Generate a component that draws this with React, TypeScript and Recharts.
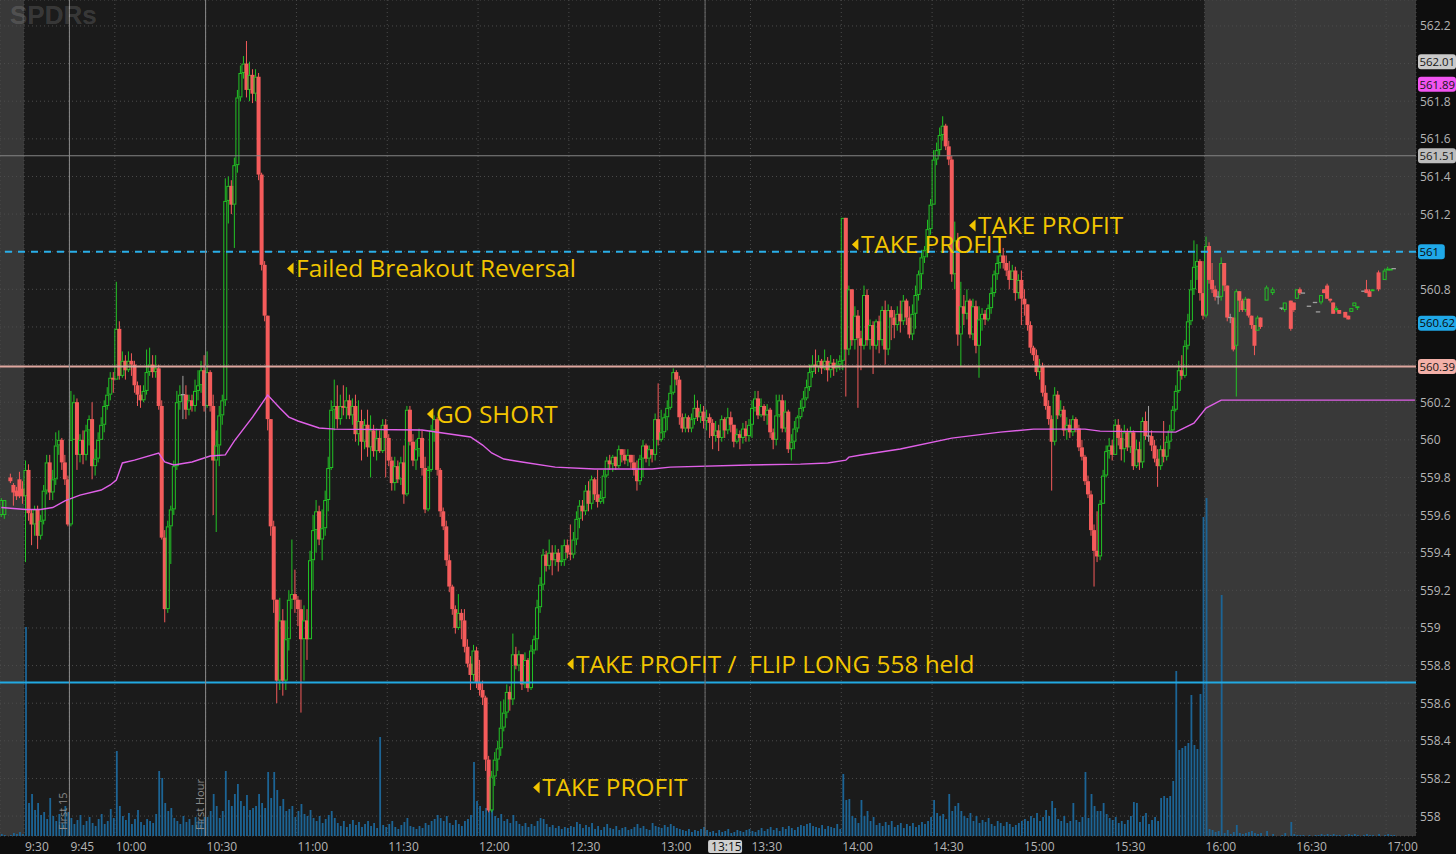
import React from "react";
import {
  ComposedChart,
  Bar,
  Line,
  XAxis,
  YAxis,
  CartesianGrid,
  ReferenceLine,
  ReferenceArea,
  ReferenceDot,
} from "recharts";

// ---------- DATA ----------
// price values are written in cents above 558.00; time = minutes after 9:30 (1-minute bars)
const BASE_PRICE = 558;

// pre-market bars: [minute, open, high, low, close, volume(K)]
const PREMARKET = [
  [-8, 160, 169, 159, 168, 20],
  [-7, 160, 168, 158, 168, 10],
  [-5, 180, 182, 177, 178, 10],
  [-4, 176, 177, 165, 172, 30],
  [-3, 173, 175, 168, 170, 20],
  [-2, 179, 183, 169, 170, 40],
  [-1, 174, 178, 166, 170, 20],
];

// regular session, one token per minute: "close,high,low" (open = previous close)
const S0930 = "184,189,135 161,187,157 155,163,144 163,165,149 149,165,142 157,160,147 173,176,155 188,192,171 172,192,168 179,184,168 197,204,176 200,205,192 188,201,184 179,192,176 155,181,154 200,226,154 220,224,200 192,222,184 200,203,188 192,205,187 205,208,189 211,213,197 186,220,179 190,195,181 200,204,188 208,212,200 218,221,204 224,228,216 233,236,221 232,236,225";
const S1000 = "259,284,232 234,263,232 242,247,233 237,245,232 242,247,236 240,246,234 229,242,225 224,231,218 221,229,217 226,229,220 236,248,224 240,249,234 236,245,233 238,245,233 218,240,216 148,221,147 110,152,103 154,157,108 163,165,134 186,189,160 220,226,184 224,229,216 224,234,211 216,229,211 221,224,213 218,224,215 226,232,215 229,237,221 237,242,225 218,245,215";
const S1030 = "236,247,217 218,237,215 189,224,160 197,205,151 213,218,186 221,224,208 327,339,218 335,340,315 325,338,320 346,350,302 382,386,342 395,399,380 400,404,392 386,412,382 394,401,380 384,397,379 393,397,380 341,395,338 293,342,290 266,295,263 211,264,205 154,211,149 115,157,108 72,115,60 104,116,67 72,110,64 94,104,67 115,120,88 118,147,110 115,131,108";
const S1100 = "110,117,101 94,115,55 104,112,72 94,110,83 136,141,94 152,160,120 162,168,140 147,165,144 153,163,136 168,173,149 185,191,162 216,221,184 218,232,205 211,229,206 218,224,208 217,229,213 221,228,211 213,224,211 218,222,208 203,224,199 210,221,197 199,216,189 208,211,195 196,216,191 205,213,180 194,208,191 201,206,189 194,205,193 208,211,193 201,211,180";
const S1130 = "189,203,186 177,191,173 186,191,173 179,189,177 188,191,176 171,197,166 216,218,170 199,218,197 189,203,186 195,200,184 201,206,191 185,205,181 163,191,161 184,186,162 205,208,183 211,213,199 184,212,181 162,185,159 154,164,152 136,157,133 122,139,119 110,123,107 100,112,97 108,118,99 104,110,94 90,110,87 81,94,79 75,85,67 88,91,72 71,90,68";
const S1200 = "67,83,64 63,72,59 30,64,24 3,32,2 21,24,2 30,34,16 36,40,24 47,61,32 55,62,45 66,70,52 62,69,56 86,97,59 80,90,78 86,88,77 70,86,67 83,87,68 68,84,66 88,91,67 94,96,86 111,115,88 123,127,108 139,142,120 133,141,130 140,147,131 136,144,128 140,144,133 135,142,130 136,144,133 144,147,133 140,147,137";
const S1230 = "139,155,136 147,151,137 158,162,144 165,168,153 162,168,157 173,176,160 166,178,162 179,181,163 171,180,168 167,184,164 169,173,166 181,184,166 189,191,180 187,192,184 191,192,183 186,191,184 195,197,185 192,195,188 189,195,187 192,195,186 188,192,185 184,192,181 178,189,173 190,192,176 197,200,180 190,198,188 195,197,186 192,195,188 211,214,189 200,230,197";
const S1300 = "204,216,199 212,214,201 217,221,205 225,229,216 236,238,224 232,237,229 212,234,208 206,214,204 212,214,204 206,213,204 211,214,204 217,224,208 212,221,210 215,219,209 210,218,206 212,216,205 209,214,201 202,211,195 205,210,199 201,208,194 211,213,199 205,212,201 212,217,203 208,215,204 199,208,196 203,206,198 201,205,195 206,209,198 202,210,199 208,211,199";
const S1330 = "217,221,201 222,226,215 213,226,211 218,222,212 213,219,210 216,219,208 204,217,201 200,206,195 213,224,197 221,224,212 206,224,204 215,221,204 195,216,193 199,203,189 206,210,195 212,213,204 217,221,211 222,226,215 228,232,221 236,240,226 240,245,233 239,248,235 242,245,236 238,243,235 242,248,237 237,244,231 241,245,233 238,243,234 240,243,236 242,245,237";
const S1400 = "318,318,237 248,318,223 280,282,245 253,280,250 266,271,248 254,269,217 250,258,237 277,282,248 253,280,250 261,264,248 250,263,235 263,264,248 253,266,246 269,271,250 248,274,240 269,272,245 265,271,253 261,269,254 267,271,258 263,274,257 274,277,261 265,275,261 256,271,254 267,272,253 277,282,259 288,290,274 297,301,280 301,303,294 312,317,297 325,328,309";
const S1430 = "349,354,325 354,358,346 362,366,351 367,372,359 356,368,354 349,359,346 288,351,284 306,316,280 256,310,250 271,284,239 267,277,261 274,280,264 256,275,254 271,275,253 250,274,246 264,271,233 267,270,258 264,269,261 270,272,263 278,281,267 288,290,276 294,298,285 298,301,291 294,302,291 290,298,287 285,295,280 290,293,285 278,292,274 285,288,275 275,290,261";
const S1500 = "272,280,266 261,272,258 249,263,246 245,250,242 236,248,234 239,243,232 225,241,223 218,229,216 211,221,208 199,213,173 224,228,197 213,226,211 216,221,212 205,218,202 208,212,200 204,211,201 211,213,202 206,212,204 196,208,194 191,200,189 178,192,176 171,181,169 152,173,149 141,155,122 138,162,135 166,168,136 181,184,166 194,197,180 197,201,190 192,200,189";
const S1530 = "208,211,194 201,211,197 195,206,189 204,208,188 196,206,194 204,207,193 186,205,184 195,200,185 188,199,184 210,212,185 202,215,200 202,218,199 197,205,194 190,200,188 186,195,175 195,197,184 191,210,188 199,202,189 205,208,195 216,218,204 226,229,215 237,242,225 234,245,232 250,253,233 263,267,248 280,285,261 292,306,277 295,304,285 278,296,274 266,295,264";
const SESSION = [S0930, S1000, S1030, S1100, S1130, S1200, S1230, S1300, S1330, S1400, S1430, S1500, S1530];

// volume per minute (thousands of shares)
const V0930 = "2090 330 420 260 330 210 240 170 380 200 150 220 130 300 240 180 120 160 210 110 150 190 130 100 170 220 120 150 270 180";
const V1000 = "850 300 200 160 230 120 170 260 140 110 170 150 130 220 650 580 330 250 280 180 150 120 200 140 170 110 190 150 160 190";
const V1030 = "190 250 420 300 180 250 650 360 300 420 520 350 300 410 260 280 300 420 330 280 640 380 640 460 300 370 250 270 300 190";
const V1100 = "250 320 220 200 260 180 150 200 130 170 210 250 180 130 100 150 90 120 160 110 140 90 120 150 100 130 80 990 110 90";
const V1130 = "120 150 90 70 110 140 180 100 90 70 100 80 130 110 150 170 210 180 150 200 130 110 160 120 100 150 170 210 740 350";
const V1200 = "300 250 280 310 260 200 180 220 150 170 130 210 150 120 100 130 90 120 100 150 180 170 120 90 110 80 100 70 90 80";
const V1230 = "100 90 140 120 80 110 90 130 70 100 60 90 120 80 70 100 60 80 90 60 70 90 120 80 100 70 60 130 100 90";
const V1300 = "80 110 90 120 100 80 70 60 50 70 40 60 50 70 90 60 40 50 30 60 40 50 70 30 40 60 50 40 60 70";
const V1330 = "50 40 60 80 50 70 90 60 80 50 90 70 100 80 60 90 110 100 120 130 100 90 80 110 70 100 90 80 120 70";
const V1400 = "620 360 370 200 180 130 360 200 250 150 190 110 130 100 140 110 150 90 110 130 80 120 100 130 90 110 140 120 150 190";
const V1430 = "360 230 200 220 170 420 250 300 330 250 200 180 230 150 200 130 160 140 180 120 100 150 130 100 140 120 90 110 130 150";
const V1500 = "170 150 200 180 230 150 190 260 200 350 280 170 150 200 130 150 330 160 140 190 640 180 420 300 250 250 330 220 180 160";
const V1530 = "190 130 150 120 160 200 340 330 140 200 230 120 160 190 150 380 400 380 400 550 1650 860 880 900 930 1410 910 870 1420 3190";
const VOLUMES = [V0930, V1000, V1030, V1100, V1130, V1200, V1230, V1300, V1330, V1400, V1430, V1500, V1530];

// after-hours bars: [minute, open, high, low, close, volume(K)]
const AFTER_HOURS = [
  [390, 266, 308, 265, 303, 3380], [391, 303, 305, 283, 285, 70], [392, 285, 294, 278, 280, 60],
  [393, 280, 282, 274, 276, 40], [394, 276, 279, 272, 276, 50], [395, 276, 297, 274, 294, 2410],
  [396, 294, 294, 279, 282, 30], [397, 282, 282, 263, 265, 60], [398, 265, 267, 262, 265, 20],
  [399, 265, 265, 247, 248, 40], [400, 250, 280, 223, 279, 110], [401, 279, 279, 268, 274, 30],
  [402, 274, 275, 268, 269, 20], [403, 269, 276, 268, 275, 30], [404, 275, 275, 265, 266, 40],
  [405, 266, 266, 259, 261, 50], [406, 261, 261, 245, 250, 30], [407, 258, 266, 258, 265, 20],
  [408, 265, 265, 259, 260, 30], [410, 274, 282, 274, 281, 50], [412, 278, 281, 277, 280, 20],
  [415, 270, 270, 269, 270, 10], [416, 269, 273, 268, 273, 30], [418, 274, 274, 258, 259, 140],
  [419, 273, 273, 268, 269, 20], [420, 275, 280, 275, 280, 10], [421, 280, 281, 277, 278, 10],
  [422, 278, 278, 278, 278, 10], [424, 271, 271, 271, 271, 10], [426, 273, 273, 273, 273, 10],
  [427, 268, 268, 268, 268, 10], [428, 273, 277, 272, 277, 20], [429, 280, 280, 278, 278, 10],
  [430, 282, 283, 275, 275, 20], [431, 275, 275, 273, 274, 10], [432, 273, 273, 267, 267, 20],
  [433, 269, 271, 268, 270, 10], [434, 269, 269, 267, 267, 10], [436, 268, 268, 265, 265, 10],
  [437, 266, 266, 264, 264, 20], [438, 268, 270, 268, 270, 10], [439, 271, 273, 271, 273, 20],
  [440, 270, 271, 269, 271, 10], [442, 279, 279, 279, 279, 10], [443, 280, 285, 278, 278, 20],
  [444, 279, 280, 276, 276, 10], [445, 279, 280, 279, 280, 10], [447, 289, 290, 279, 280, 20],
  [449, 285, 291, 285, 290, 10], [450, 290, 292, 290, 291, 20], [451, 290, 291, 290, 291, 10],
  [452, 291, 291, 291, 291, 10],
];

// VWAP: [minute, cents above 558]
const VWAP_POINTS = [
  [-8, 164], [0, 163], [5, 163], [9, 164], [13, 167.5], [18, 170.6], [25, 173.3], [28, 176],
  [30, 178.6], [32, 187.7], [36, 189.2], [44, 193], [46, 188.2], [49, 186.6], [55, 188.2],
  [61, 191.4], [66, 192], [69, 199.4], [75, 212.1], [80, 223.8], [84, 216.9], [87, 212.1],
  [90, 210], [97, 206.3], [102, 205.7], [131, 205.2], [147, 201.5], [151, 197.2], [154, 193],
  [158, 189.8], [164, 188.2], [175, 185.5], [188, 184.5], [207, 184.5], [213, 185.5],
  [239, 186.6], [256, 187.1], [265, 187.7], [271, 189.2], [272, 190.8], [276, 191.9],
  [289, 195.1], [306, 200.9], [322, 204.1], [333, 205.7], [350, 205.7], [355, 204.6],
  [380, 204.1], [386, 208.9], [390, 216.9], [395, 221.1], [459, 221.1],
];

const TIME_TICKS = [0, 15, 30, 60, 90, 120, 150, 180, 210, 225, 240, 270, 300, 330, 360, 390, 420, 450];
const TIME_LABELS = ["9:30", "9:45", "10:00", "10:30", "11:00", "11:30", "12:00", "12:30", "13:00", "13:15", "13:30", "14:00", "14:30", "15:00", "15:30", "16:00", "16:30", "17:00"];
const CURSOR_TIME = 225;
const PRICE_TICKS = [558, 558.2, 558.4, 558.6, 558.8, 559, 559.2, 559.4, 559.6, 559.8, 560, 560.2, 560.4, 560.6, 560.8, 561, 561.2, 561.4, 561.6, 561.8, 562, 562.2];
const HIDDEN_PRICE_TICKS = [562, 561, 560.6, 560.4];

const PRICE_BOXES = [
  { p: 562.01, label: "562.01", bg: "#c9c9c9", fg: "#161616" },
  { p: 561.89, label: "561.89", bg: "#f154f1", fg: "#161616" },
  { p: 561.51, label: "561.51", bg: "#bdbdbd", fg: "#161616" },
  { p: 561.0, label: "561", bg: "#1fa8e8", fg: "#0a0a0a" },
  { p: 560.62, label: "560.62", bg: "#1fa8e8", fg: "#0a0a0a" },
  { p: 560.39, label: "560.39", bg: "#f3b0a8", fg: "#161616" },
];

const ANNOTATIONS = [
  { t: 86.9, p: 560.911, text: "Failed Breakout Reversal" },
  { t: 133.1, p: 560.137, text: "GO SHORT" },
  { t: 273.5, p: 561.038, text: "TAKE PROFIT" },
  { t: 312.2, p: 561.139, text: "TAKE PROFIT" },
  { t: 179.4, p: 558.808, text: "TAKE PROFIT /  FLIP LONG 558 held" },
  { t: 168.2, p: 558.152, text: "TAKE PROFIT" },
];

const SESSION_MARKERS = [
  { t: 15, label: "First 15" },
  { t: 60, label: "First Hour" },
];

const LEVELS = { grey: 561.51, dashed: 561.0, salmon: 560.39, support: 558.71 };

// ---------- STYLE ----------
const X_DOMAIN: [number, number] = [-7.93, 459.86];
const Y_DOMAIN: [number, number] = [557.894, 562.338];
const VOL_DOMAIN: [number, number] = [0, 8360];
const GREEN = "#22c325";
const RED = "#f45b5b";
const GRAY = "#a0a0a0";
const YELLOW = "#f2c500";
const VOL = "#1c6495";
const FONT = "Open Sans, DejaVu Sans, sans-serif";

const P = (cents: number) => BASE_PRICE + cents / 100;

function buildRows() {
  const rows: any[] = [];
  for (let t = -8; t <= 459; t++) rows.push({ x: t + 0.5 });
  const at = (t: number) => rows[t + 8];
  const put = (t: number, o: number, h: number, l: number, c: number, v: number) => {
    const r = at(t);
    r.o = P(o);
    r.c = P(c);
    r.h = P(Math.max(h, o, c));
    r.l = P(Math.min(l, o, c));
    r.v = v;
  };
  let prev = 0;
  PREMARKET.forEach(([t, o, h, l, c, v]) => {
    put(t, o, h, l, c, v);
    prev = c;
  });
  let t = 0;
  SESSION.forEach((blk, bi) => {
    const toks = blk.trim().split(/\s+/);
    const vols = VOLUMES[bi].trim().split(/\s+/).map(Number);
    toks.forEach((tok, i) => {
      const [c, h, l] = tok.split(",").map(Number);
      put(t, prev, h, l, c, vols[i]);
      prev = c;
      t++;
    });
  });
  AFTER_HOURS.forEach(([tt, o, h, l, c, v]) => put(tt, o, h, l, c, v));
  VWAP_POINTS.forEach(([tt, c]) => {
    at(tt).vwap = P(c);
  });
  return rows;
}
const ROWS = buildRows();

const candleRange = (d: any) => (d.o == null ? null : [d.l, d.h]);

function CandleShape(props: any) {
  const { x, y, width, height, payload } = props;
  if (!payload || payload.o == null || !Number.isFinite(x) || !Number.isFinite(y)) return null;
  const { o, h, l, c } = payload;
  const hh = Number.isFinite(height) ? height : 0;
  const cx = x + width / 2;
  const y1 = Math.min(y, y + hh);
  const y2 = Math.max(y, y + hh);
  const py = (p: number) => (h > l ? y1 + ((h - p) / (h - l)) * (y2 - y1) : y1);
  const yo = py(o);
  const yc = py(c);
  const bt = Math.min(yo, yc);
  const bb = Math.max(yo, yc);
  const bw = 4;
  if (c > o) {
    return (
      <g>
        <line x1={cx} x2={cx} y1={y1} y2={bt} stroke={GREEN} strokeWidth={1} />
        <line x1={cx} x2={cx} y1={bb} y2={y2} stroke={GREEN} strokeWidth={1} />
        <rect x={cx - bw / 2 + 0.5} y={bt + 0.5} width={bw - 1} height={Math.max(bb - bt - 1, 0.5)} fill="none" stroke={GREEN} strokeWidth={1} />
      </g>
    );
  }
  if (c < o) {
    return (
      <g>
        <line x1={cx} x2={cx} y1={y1} y2={y2} stroke={RED} strokeWidth={1} />
        <rect x={cx - bw / 2} y={bt} width={bw} height={Math.max(bb - bt, 1)} fill={RED} />
      </g>
    );
  }
  return (
    <g>
      {y2 - y1 > 0.5 && <line x1={cx} x2={cx} y1={y1} y2={y2} stroke={GRAY} strokeWidth={1} />}
      <line x1={cx - 2.2} x2={cx + 2.2} y1={yc} y2={yc} stroke={GRAY} strokeWidth={1.3} />
    </g>
  );
}

function VolShape(props: any) {
  const { x, y, width, height } = props;
  if (!(height > 0) || !Number.isFinite(x)) return null;
  const cx = x + width / 2;
  return <rect x={cx - 0.9} y={y} width={1.8} height={height} fill={VOL} />;
}

function XTick(props: any) {
  const { x, y, payload } = props;
  const idx = TIME_TICKS.indexOf(payload.value);
  const label = TIME_LABELS[idx];
  if (payload.value === CURSOR_TIME) {
    return (
      <g>
        <rect x={x + 3} y={y + 4} width={34} height={13} rx={2} fill="#cfcfcf" />
        <text x={x + 6} y={y + 15} fill="#111" fontSize={12} fontFamily={FONT}>{label}</text>
      </g>
    );
  }
  return (
    <text x={x + 1} y={y + 15} fill="#b5b5b5" fontSize={12} fontFamily={FONT}>{label}</text>
  );
}

function YTick(props: any) {
  const { x, y, payload } = props;
  if (HIDDEN_PRICE_TICKS.includes(payload.value)) return null;
  return (
    <text x={x + 4} y={y + 4.5} fill="#b5b5b5" fontSize={12} fontFamily={FONT}>{String(payload.value)}</text>
  );
}

function PriceBox({ cx, cy, label, bg, fg }: any) {
  let w = 7;
  for (const ch of label) w += ch === "." ? 3.2 : 6.6;
  return (
    <g>
      <rect x={cx + 2} y={cy - 7.5} width={Math.min(w, 38)} height={15} rx={3} fill={bg} />
      <text x={cx + 3.5} y={cy + 4.3} fill={fg} fontSize={11.4} fontFamily={FONT}>{label}</text>
    </g>
  );
}

function Annotation({ cx, cy, text }: any) {
  return (
    <g>
      <polygon points={`${cx},${cy} ${cx + 6.5},${cy - 6} ${cx + 6.5},${cy + 6}`} fill={YELLOW} />
      <text x={cx + 9} y={cy + 8.5} fill={YELLOW} fontSize={24.4} fontFamily={FONT} style={{ whiteSpace: "pre" }}>{text}</text>
    </g>
  );
}

function MarkerLabel({ cx, cy, label }: any) {
  return (
    <text x={cx - 2} y={cy} transform={`rotate(-90 ${cx - 2} ${cy})`} fill="#8a8a8a" fontSize={11} fontFamily={FONT}>{label}</text>
  );
}

export default function App() {
  return (
    <div style={{ position: "relative", width: 1456, height: 854, background: "#1b1b1b", overflow: "hidden" }}>
      <style>{`body{margin:0;background:#0e0e0e}`}</style>
      <div style={{ position: "absolute", left: 1416, top: 0, width: 40, height: 854, background: "#0e0e0e", zIndex: 0 }} />
      <div style={{ position: "absolute", left: 0, top: 836, width: 1456, height: 18, background: "#0e0e0e", zIndex: 0 }} />
      <div style={{ position: "absolute", left: 0, top: 0, zIndex: 1 }}>
        <ComposedChart width={1456} height={854} data={ROWS} margin={{ top: 0, right: 0, bottom: 0, left: 0 }}>
          <ReferenceArea x1={X_DOMAIN[0]} x2={0} fill="#383838" fillOpacity={1} stroke="none" zIndex={-200} />
          <ReferenceArea x1={390} x2={X_DOMAIN[1]} fill="#393939" fillOpacity={1} stroke="none" zIndex={-200} />
          <CartesianGrid stroke="#4c4c4c" strokeDasharray="1 3" />
          <XAxis
            dataKey="x"
            type="number"
            domain={X_DOMAIN}
            allowDataOverflow
            ticks={TIME_TICKS}
            interval={0}
            tick={(p: any) => <XTick {...p} />}
            tickLine={false}
            axisLine={false}
            tickSize={0}
            tickMargin={0}
            height={18}
          />
          <XAxis xAxisId="vx" dataKey="x" type="number" domain={X_DOMAIN} allowDataOverflow hide />
          <YAxis
            orientation="right"
            type="number"
            domain={Y_DOMAIN}
            allowDataOverflow
            ticks={PRICE_TICKS}
            interval={0}
            tick={(p: any) => <YTick {...p} />}
            tickLine={false}
            axisLine={false}
            tickSize={0}
            tickMargin={0}
            width={40}
          />
          <YAxis yAxisId="vol" type="number" domain={VOL_DOMAIN} allowDataOverflow hide />
          <Bar xAxisId="vx" yAxisId="vol" dataKey="v" barSize={2} shape={(p: any) => <VolShape {...p} />} isAnimationActive={false} />
          <Bar dataKey={candleRange} barSize={3} shape={(p: any) => <CandleShape {...p} />} isAnimationActive={false} />
          <Line dataKey="vwap" type="linear" connectNulls dot={false} activeDot={false} stroke="#e060e8" strokeWidth={1.4} isAnimationActive={false} />
          <ReferenceLine y={LEVELS.grey} stroke="#858585" strokeWidth={1} />
          <ReferenceLine y={LEVELS.dashed} stroke="#2aaee8" strokeWidth={2} strokeDasharray="7 6" />
          <ReferenceLine y={LEVELS.salmon} stroke="#dfa79f" strokeWidth={2} />
          <ReferenceLine y={LEVELS.support} stroke="#22a9e2" strokeWidth={2} />
          {SESSION_MARKERS.map((m) => (
            <ReferenceLine key={"ml" + m.t} x={m.t} stroke="#8c8c8c" strokeWidth={1} />
          ))}
          <ReferenceLine x={CURSOR_TIME} stroke="#6f6f6f" strokeWidth={1} />
          {SESSION_MARKERS.map((m) => (
            <ReferenceDot
              key={"mk" + m.t}
              x={m.t}
              y={557.926}
              r={0}
              ifOverflow="visible"
              shape={(p: any) => <MarkerLabel cx={p.cx} cy={p.cy} label={m.label} />}
            />
          ))}
          {ANNOTATIONS.map((a, i) => (
            <ReferenceDot
              key={"an" + i}
              x={a.t}
              y={a.p}
              r={0}
              ifOverflow="visible"
              shape={(p: any) => <Annotation cx={p.cx} cy={p.cy} text={a.text} />}
            />
          ))}
          {PRICE_BOXES.map((b, i) => (
            <ReferenceDot
              key={"pb" + i}
              x={X_DOMAIN[1]}
              y={b.p}
              r={0}
              ifOverflow="visible"
              zIndex={3000}
              shape={(p: any) => <PriceBox cx={p.cx} cy={p.cy} label={b.label} bg={b.bg} fg={b.fg} />}
            />
          ))}
        </ComposedChart>
      </div>
      <svg style={{ position: "absolute", left: 0, top: 0, zIndex: 2, pointerEvents: "none" }} width={200} height={40}>
        <text x={10} y={24} fontFamily="Liberation Sans, Arial, sans-serif" fontWeight={700} fontSize={26} fill="rgba(255,255,255,0.15)">SPDRs</text>
      </svg>
    </div>
  );
}
